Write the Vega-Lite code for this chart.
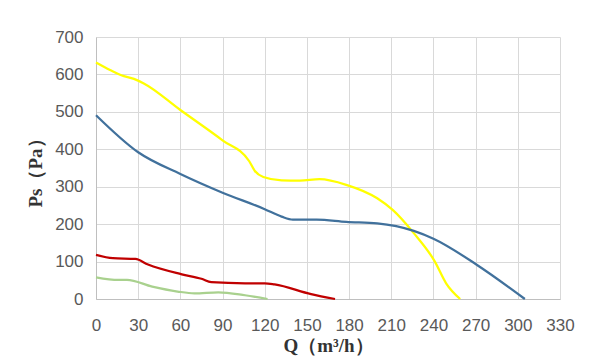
{
  "$schema": "https://vega.github.io/schema/vega-lite/v6.json",
  "width": 464,
  "height": 262,
  "autosize": {"type": "none"},
  "padding": {"left": 96, "top": 37, "right": 51, "bottom": 59},
  "background": "white",
  "config": {"view": {"stroke": null}},
  "data": {"values": [
    {"s": "a", "q": 0, "p": 632},
    {"s": "a", "q": 10, "p": 612},
    {"s": "a", "q": 18, "p": 598},
    {"s": "a", "q": 27, "p": 588},
    {"s": "a", "q": 34, "p": 576},
    {"s": "a", "q": 60, "p": 505},
    {"s": "a", "q": 90, "p": 424},
    {"s": "a", "q": 109, "p": 368},
    {"s": "a", "q": 113, "p": 342},
    {"s": "a", "q": 119, "p": 326},
    {"s": "a", "q": 132, "p": 317},
    {"s": "a", "q": 145, "p": 316},
    {"s": "a", "q": 159, "p": 320},
    {"s": "a", "q": 178, "p": 305},
    {"s": "a", "q": 200, "p": 269},
    {"s": "a", "q": 211, "p": 238},
    {"s": "a", "q": 226, "p": 176},
    {"s": "a", "q": 241, "p": 100},
    {"s": "a", "q": 249, "p": 42},
    {"s": "a", "q": 259, "p": 0},
    {"s": "b", "q": 0, "p": 491},
    {"s": "b", "q": 30, "p": 392},
    {"s": "b", "q": 60, "p": 334},
    {"s": "b", "q": 90, "p": 284},
    {"s": "b", "q": 120, "p": 240},
    {"s": "b", "q": 132, "p": 220},
    {"s": "b", "q": 140, "p": 212},
    {"s": "b", "q": 157, "p": 212},
    {"s": "b", "q": 178, "p": 206},
    {"s": "b", "q": 200, "p": 202},
    {"s": "b", "q": 226, "p": 182},
    {"s": "b", "q": 240, "p": 161},
    {"s": "b", "q": 271, "p": 91},
    {"s": "b", "q": 305, "p": 0},
    {"s": "c", "q": 0, "p": 118},
    {"s": "c", "q": 12, "p": 109},
    {"s": "c", "q": 28, "p": 107},
    {"s": "c", "q": 37, "p": 92},
    {"s": "c", "q": 61, "p": 66},
    {"s": "c", "q": 75, "p": 54},
    {"s": "c", "q": 82, "p": 45},
    {"s": "c", "q": 106, "p": 42},
    {"s": "c", "q": 120, "p": 42},
    {"s": "c", "q": 127, "p": 39},
    {"s": "c", "q": 153, "p": 13},
    {"s": "c", "q": 170, "p": 0},
    {"s": "d", "q": 0, "p": 58},
    {"s": "d", "q": 16, "p": 51},
    {"s": "d", "q": 22, "p": 51},
    {"s": "d", "q": 40, "p": 33},
    {"s": "d", "q": 58, "p": 20},
    {"s": "d", "q": 70, "p": 15},
    {"s": "d", "q": 87, "p": 18},
    {"s": "d", "q": 106, "p": 10},
    {"s": "d", "q": 122, "p": 0}
  ]},
  "mark": {"type": "line", "interpolate": "monotone", "strokeWidth": 2.25},
  "encoding": {
    "x": {
      "field": "q", "type": "quantitative",
      "scale": {"domain": [0, 330], "nice": false},
      "axis": {
        "values": [0, 30, 60, 90, 120, 150, 180, 210, 240, 270, 300, 330],
        "title": "Q（m³/h）",
        "titleFont": "Liberation Serif", "titleFontSize": 19, "titleFontWeight": "bold", "titleColor": "#333333",
        "titlePadding": 3,
        "labelFont": "Liberation Sans", "labelFontSize": 17, "labelColor": "#595959", "labelPadding": 18,
        "ticks": false, "domainColor": "#BFBFBF", "gridColor": "#D9D9D9", "labelFlush": false
      }
    },
    "y": {
      "field": "p", "type": "quantitative",
      "scale": {"domain": [0, 700], "nice": false},
      "axis": {
        "values": [0, 100, 200, 300, 400, 500, 600, 700],
        "title": "Ps（Pa）",
        "titleFont": "Liberation Serif", "titleFontSize": 19, "titleFontWeight": "bold", "titleColor": "#333333",
        "titlePadding": 9,
        "labelFont": "Liberation Sans", "labelFontSize": 17, "labelColor": "#595959", "labelPadding": 13,
        "ticks": false, "domainColor": "#BFBFBF", "gridColor": "#D9D9D9"
      }
    },
    "color": {
      "field": "s", "type": "nominal",
      "scale": {"domain": ["a", "b", "c", "d"], "range": ["#FFFF00", "#41719C", "#C00000", "#A9D18E"]},
      "legend": null
    }
  }
}
